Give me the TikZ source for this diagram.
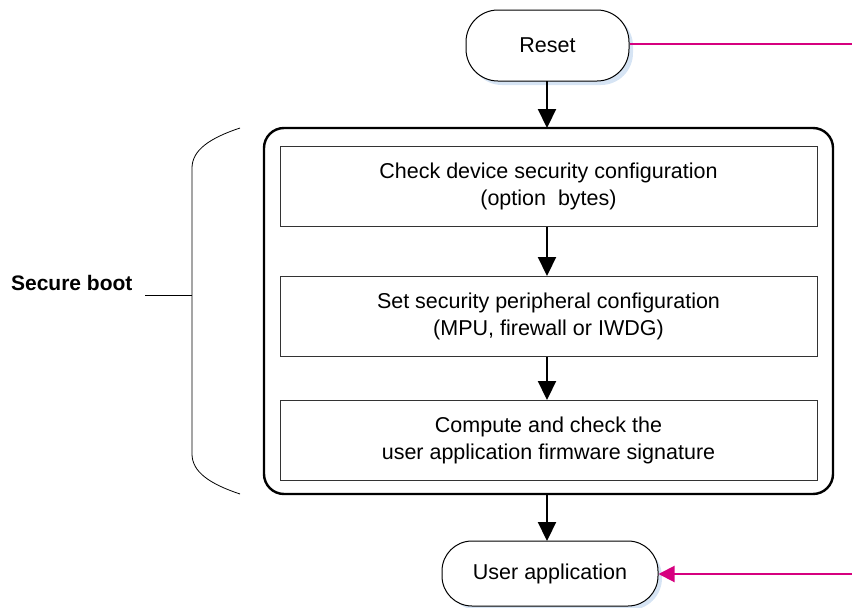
\documentclass[tikz,border=0pt]{standalone}
\usepackage{fontspec}
\setmainfont{Liberation Sans}
\usetikzlibrary{arrows.meta}
\definecolor{pinkline}{RGB}{214,0,127}
\definecolor{shadowblue}{RGB}{214,228,244}
\begin{document}
\begin{tikzpicture}[x=1pt,y=-1pt,
  term/.style={draw=black,line width=1pt,fill=white,rounded corners=32pt,minimum width=163pt,minimum height=71pt,font=\fontsize{21.5}{26}\selectfont},
  stepbox/.style={draw=black!80,line width=1pt,fill=white,minimum width=537pt,minimum height=80pt,align=center,font=\fontsize{21.5}{27}\selectfont},
  flow/.style={line width=2.2pt,-{Triangle[length=19pt,width=18pt]}},
  pinkarr/.style={draw=pinkline,line width=2pt}]
\useasboundingbox (0,0) rectangle (852,608);
% Reset
\fill[shadowblue,rounded corners=32pt] (470,14) rectangle (633,85);
\node[term] (reset) at (547.5,45.5) {Reset};
% big box
\node[draw=black,line width=2.4pt,rounded corners=20pt,minimum width=569pt,minimum height=366pt] (big) at (548.5,311) {};
\node[stepbox] (s1) at (548.5,186) {Check device security configuration\\(option\ \ bytes)};
\node[stepbox] (s2) at (548.5,316.5) {Set security peripheral configuration\\(MPU, firewall or IWDG)};
\node[stepbox] (s3) at (548.5,440.5) {Compute and check the\\user application firmware signature};
% user app
\fill[shadowblue,rounded corners=32pt] (446,545) rectangle (662,610);
\node[term,minimum width=216pt,minimum height=65pt,rounded corners=30pt] (app) at (550,573.5) {User application};
% arrows
\draw[flow] (547,81) -- (547,128);
\draw[flow] (s1.south -| 547,0) -- (s2.north -| 547,0);
\draw[flow] (s2.south -| 547,0) -- (s3.north -| 547,0);
\draw[flow] (547,494) -- (547,541);
% pink lines
\coordinate (pr) at (852,44);
\coordinate (pa) at (852,574);
\draw[pinkarr] (reset.east |- 0,44) -- (pr);
\draw[pinkarr,-{Triangle[length=16pt,width=16pt]}] (pa) -- (app.east |- 0,574);
% brace
\draw[line width=0.8pt] (240,128) .. controls (210,138) and (192,150) .. (192,168) -- (192,454) .. controls (192,472) and (210,484) .. (240,494);
\coordinate (bm) at (192,295);
\coordinate (bl) at (145,295);
\draw[line width=0.8pt] (bl) -- (bm);
\node[font=\bfseries\fontsize{21}{25}\selectfont,anchor=east] (sb) at (136,283) {Secure boot};
\end{tikzpicture}
\end{document}
